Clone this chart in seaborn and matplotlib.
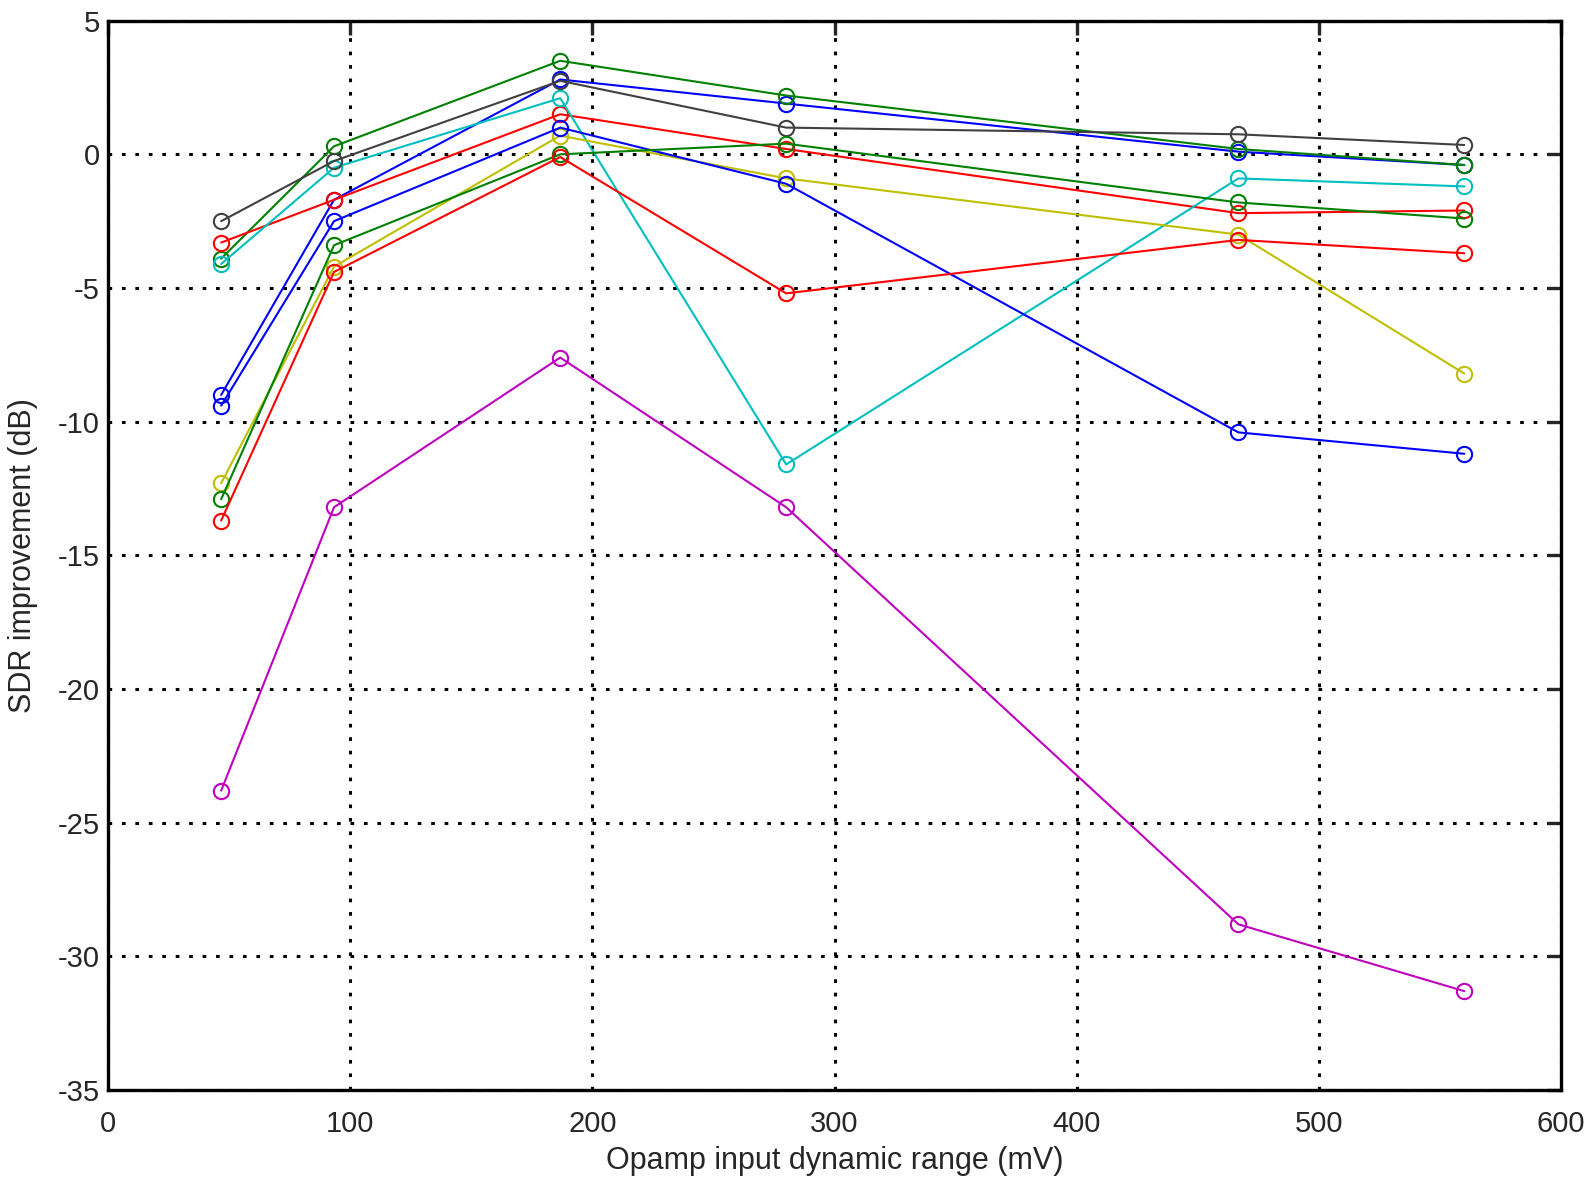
import pandas as pd
import matplotlib.pyplot as plt
import seaborn as sns

# Datos
x_mv = [46.7, 93.3, 186.7, 280.0, 466.7, 560.0]

blue_1 = [-9.0, -1.7, 2.8, 1.9, 0.1, -0.4]
green_1 = [-3.9, 0.3, 3.5, 2.2, 0.2, -0.4]
red_1 = [-3.3, -1.7, 1.5, 0.2, -2.2, -2.1]
cyan_1 = [-4.1, -0.5, 2.1, -11.6, -0.9, -1.2]
magenta_1 = [-23.8, -13.2, -7.6, -13.2, -28.8, -31.3]
yellow_1 = [-12.3, -4.2, 0.7, -0.9, -3.0, -8.2]
black_1 = [-2.5, -0.25, 2.75, 1.0, 0.75, 0.35]
blue_2 = [-9.4, -2.5, 1.0, -1.1, -10.4, -11.2]
green_2 = [-12.9, -3.4, 0.0, 0.4, -1.8, -2.4]
red_2 = [-13.7, -4.4, -0.1, -5.2, -3.2, -3.7]

series = [blue_1, green_1, red_1, cyan_1, magenta_1, yellow_1, black_1, blue_2, green_2, red_2]
# orden de colores por defecto de MATLAB
colores = [(0, 0, 1), (0, 0.5, 0), (1, 0, 0), (0, 0.75, 0.75), (0.75, 0, 0.75),
           (0.75, 0.75, 0), (0.25, 0.25, 0.25), (0, 0, 1), (0, 0.5, 0), (1, 0, 0)]

# DataFrame en formato largo
filas = []
for i, valores in enumerate(series):
    for xv, yv in zip(x_mv, valores):
        filas.append({'serie': f'serie {i + 1}', 'x': xv, 'sdr': yv})
df = pd.DataFrame(filas)

sns.set_style('white')
plt.rcParams['font.family'] = ['Liberation Sans', 'DejaVu Sans']
plt.rcParams['axes.unicode_minus'] = False

fig = plt.figure(figsize=(15.89, 11.81), dpi=100)
ax = fig.add_axes([0.068, 0.077, 0.9145, 0.9055])

for i, nombre in enumerate(df['serie'].unique()):
    sub = df[df['serie'] == nombre]
    sns.lineplot(data=sub, x='x', y='sdr', ax=ax, color=colores[i], linewidth=1.5,
                 marker='o', markersize=11, markerfacecolor='none',
                 markeredgecolor=colores[i], markeredgewidth=1.5,
                 estimator=None, sort=False, legend=False)

# Configurar ejes
ax.set_xlim(0, 600)
ax.set_ylim(-35, 5)
ax.set_xticks(range(0, 601, 100))
ax.set_yticks(range(-35, 6, 5))
ax.grid(True, color='black', linestyle=(0, (1.2, 3.2)), linewidth=2.2)
for s in ax.spines.values():
    s.set_linewidth(2.4)
    s.set_color('black')
ax.tick_params(direction='in', length=10, width=2.4, labelsize=21,
               top=True, right=True)
ax.tick_params(axis='x', pad=14)
ax.tick_params(axis='y', pad=6)

ax.set_xlabel('Opamp input dynamic range (mV)', fontsize=22, labelpad=6)
ax.set_ylabel('SDR improvement (dB)', fontsize=22, labelpad=14)

plt.savefig('out.png', dpi=100)
